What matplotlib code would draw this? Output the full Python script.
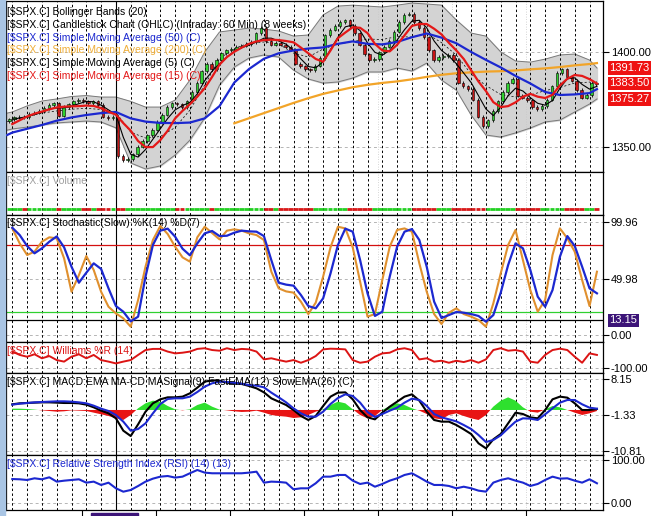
import matplotlib.pyplot as plt
import numpy as np
from matplotlib.patches import Rectangle

plt.rcParams['font.family'] = ['Liberation Sans', 'DejaVu Sans']

# ---- data ----
# hourly candles, 3 per trading day shown, closes
closes = [
    1364.5, 1365.5, 1366, 1365.5, 1367.5, 1368, 1369, 1370.5, 1372, 1373,
    1366.5, 1371, 1372.5, 1374, 1375, 1374, 1373, 1374, 1372, 1366,
    1365, 1366, 1345, 1343, 1343.5, 1346, 1350, 1353, 1356, 1359,
    1363, 1367, 1371, 1373, 1372.5, 1371, 1374, 1379, 1384, 1390,
    1394, 1391, 1396, 1399.5, 1401, 1402, 1403, 1403.5, 1404.5, 1405.5,
    1410, 1413, 1406, 1404, 1405, 1404, 1403, 1401.5, 1394, 1392.5,
    1391, 1390.5, 1393, 1397, 1409, 1412, 1414, 1416, 1417, 1414,
    1410, 1404, 1399, 1396, 1396.5, 1400, 1403, 1406, 1411, 1416,
    1420, 1420.5, 1416, 1413, 1408, 1401, 1396, 1397.5, 1398, 1398.5,
    1396, 1384, 1382, 1380.5, 1375, 1366, 1361, 1364, 1369, 1374,
    1379, 1384, 1386, 1377, 1376, 1374.5, 1371, 1370, 1371.5, 1375,
    1382, 1389, 1391, 1387, 1385, 1380, 1376, 1377.5, 1384, 1383,
]
first_open = 1363.5
wick = 0.9

# daily samples (first point = left edge, last = half day)
t_day = [-0.35] + list(range(40)) + [39.5]
sma50 = [1356.2, 1357.5, 1359.5, 1361.5, 1363.8, 1365.5, 1366.8, 1367.8, 1368.4, 1365,
         1363.3, 1362.6, 1362.5, 1362.8, 1365, 1371.5, 1384, 1391.2, 1396.6, 1399.5,
         1401, 1402, 1402.6, 1404.5, 1405.8, 1404.5, 1404.2, 1405.5, 1408, 1410,
         1407.8, 1404.8, 1400.2, 1396, 1392, 1387.5, 1383.5, 1379, 1377.4, 1377.7,
         1378.4, 1380.5]
sma200 = [np.nan] * 16 + [1362.4, 1365.1, 1367.8, 1370.5, 1373.2, 1375.7, 1378, 1379.8,
                          1381.5, 1382.8, 1383.8, 1384.6, 1385.7, 1387, 1388.1, 1388.9,
                          1389.4, 1389.8, 1390, 1390.4, 1391, 1391.5, 1392.2, 1393.1,
                          1393.8, 1394.3]
bb_upper = [1367.8, 1368.4, 1371.6, 1374.2, 1375.3, 1376.6, 1377.1, 1376.3, 1376.3, 1374,
            1371, 1371, 1374.7, 1385.3, 1400.2, 1410.8, 1411.8, 1412.9, 1412.3, 1411.3,
            1408.6, 1409.2, 1419.8, 1424.5, 1425, 1424.5, 1424, 1425, 1426.1, 1425.6,
            1425, 1417.1, 1410.2, 1408.6, 1400.2, 1395.4, 1394.8, 1396.4, 1398.6, 1399.1,
            1395.9, 1391.7]
bb_lower = [1358.8, 1359.4, 1360.4, 1361.5, 1362.6, 1363.1, 1363.6, 1363.1, 1360, 1341.4,
            1338.2, 1339.8, 1345.6, 1353.5, 1365.2, 1382.6, 1392.2, 1397, 1398.6, 1397.5,
            1390.6, 1385.9, 1383.7, 1384.3, 1386.4, 1389.6, 1389.6, 1391.7, 1390.1, 1394.3,
            1385.3, 1380, 1366.8, 1356.2, 1355.1, 1357.3, 1359.9, 1363.1, 1364.1, 1368.4,
            1372.6, 1375.3]

# half-day samples
sma5 = [1364.5, 1365.2, 1366, 1367, 1368.3, 1370, 1370.5, 1370.6, 1371.5, 1372.8,
        1374, 1373.8, 1372, 1369.5, 1367, 1355, 1346, 1344.5, 1348.5, 1354,
        1359.5, 1365, 1369.5, 1371.8, 1373.5, 1378, 1385, 1390, 1394, 1397.5,
        1400.5, 1402.5, 1403.8, 1405.5, 1407.5, 1407.5, 1406, 1404.3, 1401, 1396.5,
        1392.5, 1391.8, 1395, 1401.5, 1408, 1413.5, 1414.5, 1411.5, 1405, 1400,
        1398.5, 1401, 1406.5, 1412, 1416.5, 1417, 1413, 1406, 1401, 1398,
        1394, 1389, 1384, 1377, 1370, 1366.5, 1371, 1377, 1381, 1379.5,
        1376, 1373, 1372, 1374.5, 1381, 1386, 1386.5, 1383, 1380.5, 1382]
sma15 = [1362, 1364, 1366, 1367.5, 1368.6, 1369.8, 1370.8, 1371.2, 1371.4, 1371.5,
         1371.8, 1371.6, 1370.4, 1368.5, 1367, 1362.5, 1358.5, 1353, 1349.8, 1349.8,
         1353.5, 1358.5, 1365, 1369, 1372.5, 1376.5, 1381, 1387, 1393.5, 1397.5,
         1400.3, 1402.5, 1404.5, 1405.8, 1406.5, 1406.7, 1406.5, 1406, 1405.3, 1402.5,
         1399.5, 1396.5, 1395, 1401, 1407.5, 1410.5, 1413.3, 1413, 1410.2, 1404.5,
         1401, 1400.5, 1404, 1409, 1414, 1415, 1415, 1412.5, 1409.5, 1405,
         1401, 1396.5, 1390.5, 1384.5, 1379.5, 1373.6, 1371, 1371.5, 1373.5, 1376.5,
         1378, 1376.5, 1375.8, 1377.5, 1382.5, 1386, 1388, 1387.5, 1385.8, 1383.5]
stoch_k = [94.6, 81.3, 71, 74, 82.8, 86.7, 85.8, 68, 38.4, 53.2,
           70.1, 57.7, 38.4, 25.1, 19.2, 14.8, 7.4, 31.1, 60.6, 84.3,
           96.7, 89.6, 78.4, 68.9, 65.1, 86.7, 96.1, 90.5, 84.9, 92.6,
           93.8, 92.6, 90.2, 88.7, 84.3, 56.2, 41.4, 38.7, 37.6, 29.6,
           18.6, 28.7, 51.8, 77.8, 96.1, 94.6, 77.8, 47.3, 16.3, 18.6,
           48.8, 78.4, 93.2, 94.6, 91.7, 63.6, 38.4, 18.6, 9.8, 19.8,
           23.7, 18.6, 16.3, 13.3, 7.4, 28.1, 54.7, 79.9, 93.2, 66.5,
           39.9, 20.7, 31.1, 71, 94.6, 85.8, 73.9, 48.8, 25.7, 56.2]
stoch_d = [95.2, 88.7, 79, 72.5, 76.9, 82.8, 87.5, 77.8, 60.6, 46.4,
           55.3, 63.6, 58.6, 41.4, 25.7, 20.7, 12.1, 16.3, 51.8, 79.9,
           92.6, 94.4, 87.3, 76.6, 70.7, 81.3, 90.2, 92.3, 87.8, 88.1,
           90.8, 92.6, 92, 91.7, 87.8, 66.5, 46.4, 44.7, 43.8, 35.5,
           25.7, 23.7, 32.5, 54.7, 79.9, 94.4, 91.7, 66.5, 37, 16.9,
           20.7, 51.8, 78.4, 91.7, 94, 84.3, 60.6, 29.6, 15.1, 17.7,
           20.4, 19.8, 18.6, 16.9, 11.8, 17.7, 37.6, 62.1, 81.3, 76.9,
           57.7, 34, 25.1, 39.9, 69.5, 87.8, 79, 60.6, 41.4, 37]
williams = [-25, -40, -48, -37, -55, -45, -63, -70, -48, -37,
            -55, -40, -63, -70, -78, -70, -63, -40, -18, -13,
            -13, -25, -33, -30, -25, -13, -10, -18, -21, -10,
            -18, -13, -15, -25, -60, -55, -63, -70, -63, -75,
            -63, -45, -15, -12, -13, -15, -63, -75, -70, -48,
            -33, -30, -15, -10, -18, -60, -55, -70, -66, -75,
            -66, -72, -63, -75, -60, -18, -10, -21, -18, -25,
            -70, -75, -40, -18, -12, -18, -48, -75, -33, -40]
macd = [1.5, 1.76, 1.85, 1.94, 2.02, 2.02, 1.94, 1.85, 1.85, 1.76,
        1.41, 0.7, -0.18, -0.89, -2.21, -5.48, -6.89, -3.8, -0.45, 1.76,
        2.82, 3.35, 3.35, 3.53, 4.41, 5.91, 7.5, 7.85, 7.76, 7.23,
        6.97, 6.88, 6.35, 5.73, 4.67, 3.08, 2.2, 1.32, -0.01, -1.59,
        -2.65, -1.59, 1.05, 3.53, 4.59, 4.67, 2.82, -0.01, -1.95, -2.48,
        -0.71, 0.88, 2.2, 3.53, 4.14, 2.47, -0.45, -2.65, -3.09, -3.09,
        -3.98, -5.13, -6.36, -8.83, -10.16, -7.77, -6.36, -3.54, -0.71, -1.07,
        -1.95, -2.21, -0.01, 2.82, 3.53, 3.26, 1.76, -0.01, -0.01, 0.26]
macd_signal = [1.41, 1.67, 1.85, 2.02, 2.11, 2.2, 2.29, 2.29, 2.2, 2.02,
               1.76, 1.14, 0.35, -0.27, -1.33, -3.09, -5.48, -5.04, -3.54, -0.89,
               1.58, 2.91, 3.09, 3.09, 3.53, 4.76, 6.17, 7.06, 7.5, 7.41,
               7.23, 6.97, 6.62, 6.44, 6, 4.59, 3.35, 2.02, 0.44, -0.89,
               -1.77, -1.77, -0.45, 1.58, 3.17, 4.14, 3.7, 1.94, -0.54, -1.86,
               -1.07, -0.18, 0.61, 1.94, 3, 2.64, 1.05, -1.07, -1.95, -2.48,
               -3.01, -3.98, -5.04, -6.63, -8.48, -7.95, -6.71, -4.86, -3.09, -2.21,
               -2.3, -2.65, -1.15, 0.44, 1.94, 2.64, 2.64, 1.5, 0.61, 0.35]
macd_hist = [0.35, 0.35, 0.26, 0.1, -0.1, -0.27, -0.45, -0.35, -0.1, -0.18,
             -0.27, -0.71, -1.15, -1.59, -2.21, -2.65, -1.33, 0.44, 1.76, 2.47,
             2.2, 1.05, 0.18, -0.1, 0.18, 1.32, 1.94, 0.88, 0.1, -0.1,
             -0.35, -0.53, -0.45, -0.18, -0.71, -1.33, -1.59, -1.77, -2.12, -1.95,
             -1.33, -0.45, 0.18, 1.32, 2.2, 1.76, 0.18, -1.33, -2.21, -1.59,
             0, 1.05, 1.76, 1.32, 0.44, -0.18, -1.07, -2.21, -2.48, -1.33,
             -0.89, -1.59, -2.21, -2.65, -1.33, 0.88, 2.47, 3.35, 2.47, 0.7,
             -0.45, -0.71, 0.18, 1.05, 0.7, 0, -0.71, -1.33, -0.89, -0.27]
rsi = [56, 55.4, 53.8, 57.7, 55.4, 60, 50, 52.2, 53.8, 55.4,
       47.6, 50, 42.3, 47.6, 34.6, 26.8, 30.7, 39.9, 50, 56.9,
       61.5, 63, 59.3, 61.5, 69.3, 76.9, 70.8, 69.3, 69.3, 69.3,
       69.3, 69.3, 70.8, 73, 47.6, 50, 49.3, 47.6, 32.3, 34.6,
       34.6, 46.2, 61.5, 61.5, 65.4, 65.4, 52.3, 44.6, 47.7, 38.3,
       44.6, 52.3, 57.7, 65.4, 69.3, 60, 50, 42.3, 42.3, 40,
       34.6, 38.3, 34.6, 29.2, 26.9, 47.7, 53.8, 57.7, 52.3, 47.7,
       40, 44.6, 53.8, 61.5, 56.9, 57.7, 52.3, 47.7, 55.4, 46.2]

week_ticks = [4.72, 9.72, 14.72, 19.72, 24.72, 29.72, 34.72]

# ---- derived arrays for drawing ----
t_bar = np.arange(len(closes)) / 3 - 0.2
t_half = np.arange(80) * 0.5
closes = np.array(closes)
opens = np.concatenate([[first_open], closes[:-1]])
highs = np.maximum(opens, closes) + wick
lows = np.minimum(opens, closes) - wick
up = closes >= opens

W, H = 654, 516
X0, X1 = -0.426, 39.91

fig = plt.figure(figsize=(6.54, 5.16), dpi=100)
fig.patches.append(Rectangle((0, 0), 5 / W, 1, transform=fig.transFigure,
                             color='#a9c5e4', zorder=0))


def panel(top, bottom):
    return fig.add_axes([6 / W, 1 - bottom / H, 597 / W, (bottom - top) / H])


def style(ax, ylim, ticks, labels):
    ax.set_xlim(X0, X1)
    ax.set_ylim(*ylim)
    ax.set_xticks([])
    ax.yaxis.tick_right()
    ax.set_yticks(ticks)
    ax.set_yticklabels(labels)
    ax.tick_params(axis='y', length=4, width=0.8, pad=1.5, labelsize=8)
    for s in ax.spines.values():
        s.set_linewidth(0.9)
    for tk in ticks:
        ax.axhline(tk, color='#b5b5b5', lw=0.7, ls=(0, (3, 3)), zorder=1)
    for d in range(40):
        if d == 7:
            ax.axvline(d, color='black', lw=0.8, zorder=1.5)
        else:
            ax.axvline(d, color='black', lw=0.7, ls=(0, (2.5, 2.5)), zorder=1.5)
    for w in week_ticks[4:]:
        ax.axvline(w, color='#c8c8c8', lw=0.6, ls=(0, (1, 2)), zorder=1.2)


def label(y, s, color):
    fig.text(7 / W, 1 - y / H, s, color=color, fontsize=7.5, va='center', ha='left')


# ---- price panel ----
ax = panel(1, 172)
style(ax, (1336.6, 1427.2), [1350, 1400], ['1350.00', '1400.00'])
ax.fill_between(t_day, bb_lower, bb_upper, color='#d3d3d3', zorder=1)
ax.plot(t_day, bb_upper, color='#7a7a7a', lw=0.7, zorder=1.3)
ax.plot(t_day, bb_lower, color='#7a7a7a', lw=0.7, zorder=1.3)
bb_mid = (np.array(bb_upper) + np.array(bb_lower)) / 2
ax.plot(t_day, bb_mid, color='black', lw=0.5, ls=(0, (3, 3)), zorder=1.6)
ax.plot(t_day, sma200, color='#f2a428', lw=1.6, zorder=2)
ax.vlines(t_bar, lows, highs, color='black', lw=0.6, zorder=3)
body_h = np.maximum(np.abs(closes - opens), 0.4)
ax.bar(t_bar, body_h, bottom=np.minimum(opens, closes), width=0.17,
       color=np.where(up, '#2fd12f', '#c81414'), edgecolor='black', linewidth=0.4, zorder=3.2)
ax.plot(t_half, sma5, color='black', lw=0.8, zorder=3.5)
ax.plot(t_day, sma50, color='#1c28d0', lw=1.6, zorder=4)
ax.plot(t_half, sma15, color='#e41818', lw=1.6, zorder=4.2)
for val in [1391.73, 1383.50, 1375.27]:
    ax.text(1.011, val, f'{val:.2f}', transform=ax.get_yaxis_transform(), fontsize=8,
            color='white', va='center', ha='left',
            bbox=dict(boxstyle='square,pad=0.15', fc='#ee1212', ec='none'))

label(12.3, '[$SPX.C] Bollinger Bands (20)', 'black')
label(25.0, '[$SPX.C] Candlestick Chart (OHLC) (Intraday: 60 Min) (8 weeks)', 'black')
label(37.7, '[$SPX.C] Simple Moving Average (50) (C)', '#1c28d0')
label(50.4, '[$SPX.C] Simple Moving Average (200) (C)', '#f0ae38')
label(63.1, '[$SPX.C] Simple Moving Average (5) (C)', 'black')
label(75.8, '[$SPX.C] Simple Moving Average (15) (C)', '#e41818')

# ---- volume panel ----
ax = panel(172, 215)
style(ax, (-0.16, 1), [], [])
ax.hlines(np.zeros(len(t_bar)), t_bar - 0.16, t_bar + 0.16,
          colors=np.where(up, '#22d022', '#d81818'), lw=2, zorder=3)
label(181, '[$SPX.C] Volume', '#a0a0a0')

# ---- stochastic panel ----
ax = panel(215, 342)
style(ax, (-6.2, 106.5), [0, 49.98, 99.96], ['0.00', '49.98', '99.96'])
ax.axhline(80, color='#d41010', lw=0.9, zorder=2)
ax.axhline(20, color='#30d030', lw=0.9, zorder=2)
ax.axhline(13.15, color='black', lw=0.9, zorder=2)
ax.plot(t_half, stoch_k, color='#e0902e', lw=1.5, zorder=3)
ax.plot(t_half, stoch_d, color='#1c28d0', lw=1.6, zorder=3.2)
ax.text(1.011, 13.15, '13.15', transform=ax.get_yaxis_transform(), fontsize=8,
        color='white', va='center', ha='left',
        bbox=dict(boxstyle='square,pad=0.15', fc='#3c1478', ec='none'))
label(223, '[$SPX.C] Stochastic(Slow) %K(14) %D(7)', 'black')

# ---- williams %R panel ----
ax = panel(342, 373)
style(ax, (-121, 18), [-100], ['-100.00'])
ax.plot(t_half, williams, color='#dc1414', lw=1.4, zorder=3)
label(351, '[$SPX.C] Williams %R (14)', '#dc1414')

# ---- MACD panel ----
ax = panel(373, 455)
style(ax, (-11.92, 9.79), [8.15, -1.33, -10.81], ['8.15', '-1.33', '-10.81'])
hist = np.array(macd_hist)
ax.fill_between(t_half, 0, hist, where=hist > 0, interpolate=True, color='#2ee02e', lw=0, zorder=2)
ax.fill_between(t_half, 0, hist, where=hist < 0, interpolate=True, color='#e81414', lw=0, zorder=2)
ax.plot(t_half, macd, color='black', lw=1.5, zorder=3)
ax.plot(t_half, macd_signal, color='#1c28d0', lw=1.5, zorder=3.2)
label(382, '[$SPX.C] MACD:EMA MA-CD MASignal(9) FastEMA(12) SlowEMA(26) (C)', 'black')

# ---- RSI panel ----
ax = panel(455, 510)
style(ax, (-15.5, 111.5), [0, 100], ['0.00', '100.00'])
ax.plot(t_half, rsi, color='#1c28d0', lw=1.5, zorder=3)
label(464, '[$SPX.C] Relative Strength Index (RSI) (14) (13)', '#1c28d0')

# ---- date strip ----
ax = fig.add_axes([6 / W, 0, 597 / W, 6 / H])
ax.set_xlim(X0, X1)
ax.set_ylim(0, 1)
ax.axis('off')
ax.vlines(week_ticks, 0, 1, color='black', lw=0.8)
ax.add_patch(Rectangle((5.32, 0), 3.17, 0.5, color='#3c1478'))

fig.savefig('out.png', dpi=100)
